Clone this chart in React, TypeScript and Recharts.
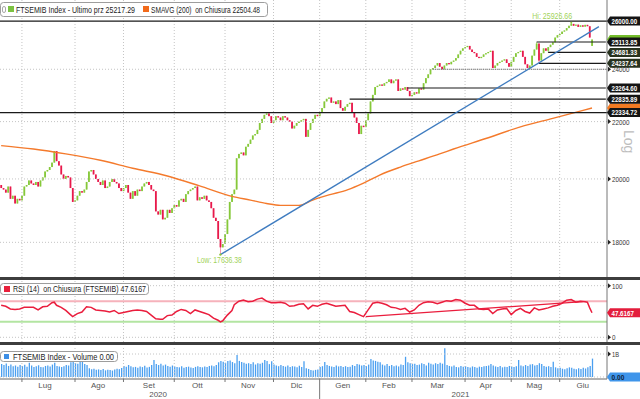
import React from "react";
import { ComposedChart, Bar, Line, XAxis, YAxis, ReferenceLine, ReferenceDot } from "recharts";

const FONT = "'Liberation Sans', Arial, sans-serif";
const SLOTS = 263; // giorni di borsa dal 18/06/2020 + spazio vuoto a destra

// chiusure giornaliere FTSEMIB
const closes = [
  19700, 19650, 19550, 19750, 19350, 19450, 19200, 19350, 19300,
  19450, 19750, 19800, 19950, 19850, 19800, 19900, 19750, 19950, 20050, 20250, 20300, 20400, 20550, 20950, 20600, 20450, 20150, 20000, 20100, 20050, 19700, 19250,
  19300, 19450, 19600, 19550, 19650, 19900, 20250, 20300, 20150, 20000, 19900, 19800, 19950, 19700, 19750, 19900, 20000, 19900, 19850, 19700, 19600,
  19700, 19800, 19550, 19350, 19600, 19450, 19650, 19600, 19750, 19850, 19900, 19800, 19650, 19600, 18950, 18850, 19000, 18700, 18750, 19000, 18900, 19050,
  19150, 19100, 19300, 19350, 19250, 19500, 19600, 19650, 19700, 19750, 19300, 19400, 19350, 19450, 19300, 19250, 19050, 18750, 18650, 18100, 17850, 17950,
  18250, 18700, 19250, 19500, 19650, 20700, 20850, 20900, 20800, 21100, 21200, 21350, 21500, 21550, 21700, 21950, 22100, 22250, 22300, 22200, 21950,
  22050, 22200, 22150, 22050, 22200, 22150, 22050, 22000, 21750, 21850, 21950, 22000, 22050, 22100, 21450, 21700, 21950, 22100, 22250, 22200,
  22350, 22500, 22750, 22850, 22900, 22700, 22750, 22650, 22800, 22500, 22400, 22550, 22650, 22700, 22350, 22150, 21950, 21550, 21850, 21800,
  22050, 22300, 22750, 23000, 23300, 23350, 23400, 23350, 23450, 23500, 23600, 23450, 23550, 23600, 23150, 23250, 23200, 23300, 23150, 22950,
  23000, 23100, 23050, 23250, 23200, 23450, 23650, 23800, 24000, 24050, 24150, 24250, 24100, 24000, 24150, 24250, 24200, 24300, 24350, 24450, 24600, 24750, 24850,
  24900, 24950, 24800, 24700, 24650, 24500, 24450, 24500, 24600, 24650, 24700, 24750, 24050, 24150, 24250, 24300, 24350, 24400, 24250, 24100,
  24300, 24500, 24650, 24700, 24750, 24500, 24200, 24050, 24150, 24550, 24800, 25050, 24350, 24650, 24850, 24750, 24900, 25000, 25100, 25300, 25400,
  25450, 25550, 25600, 25700, 25800, 25880, 25800, 25850, 25750, 25820, 25760, 25840, 25780, 25300, 25217.29,
];
// aperture diverse dalla chiusura precedente
const openGaps = [[0, 19800], [256, 24950]];
const lowMarks = [[95, 17636.38], [233, 24237.64], [237, 24681.33]];
const highMarks = [[232, 25113.85], [247, 25926.66]];

// volume (milioni)
const volumes = [
  560, 520, 590, 480, 540, 470, 500, 450, 520,
  480, 530, 450, 620, 500, 430, 470, 510, 440, 420, 480, 500, 460, 540, 620, 480, 460, 430, 470, 520, 500,
  640, 700, 600, 580, 650, 770, 560, 520,
  380, 340, 360, 310, 330, 300, 350, 290, 320, 300, 280, 330, 360, 340, 390,
  480, 450, 520, 470, 420, 440, 400, 460, 430, 490, 410, 440, 520, 740,
  560, 520, 580, 500, 540, 480, 450, 500,
  460, 440, 420, 470, 400, 430, 450, 410, 390, 440, 470, 430, 420, 460, 440, 480, 500, 470, 520, 640, 700, 660,
  620, 700, 720, 650, 600, 960,
  700, 650, 620, 580, 600, 560, 640, 540, 600, 580, 620, 740, 700, 560,
  680, 540, 500, 470, 520, 480, 450, 500, 430, 470, 460, 420, 490, 440, 680,
  380, 350, 300, 280, 310, 330,
  430, 470, 650, 520, 480, 460, 440, 500, 460, 480, 440, 470, 430, 450, 520, 480, 560, 540, 500, 520, 480, 540,
  780, 720, 700, 660, 640,
  540, 500, 560, 480, 520, 470, 500, 460, 540, 520, 880,
  640, 600, 560, 580, 520, 540, 600, 560, 500, 620, 580, 540, 600, 560, 620, 580, 1250,
  520, 480, 460, 500, 440, 420, 480, 450, 470, 430, 410, 460, 440, 400, 450, 430, 470, 480, 500,
  560, 500, 460, 440, 480, 420, 450, 430, 480, 460, 440, 470, 740,
  500, 470, 520, 480, 540, 560, 500, 520, 600, 560, 480, 450, 470, 440, 660,
  420, 380, 400, 360, 340, 380, 420, 400, 360, 340, 380, 350, 400, 370, 420, 480, 800,
];

// SMAVG(200) letta a intervalli
const smaIdx = [0, 14, 28, 43, 57, 72, 86, 100, 108, 115, 121, 129, 135, 142, 150, 157, 164, 173, 181, 190, 196, 210, 225, 239, 256];
const smaVals = [21140, 21020, 20850, 20630, 20360, 20100, 19770, 19430, 19310, 19200, 19140, 19140, 19310, 19475, 19640, 19860, 20130, 20400, 20610, 20850, 21020, 21390, 21810, 22120, 22504.48];

// RSI(14)
const rsiIdx = [0, 2, 4, 6, 8, 10, 12, 14, 16, 18, 20, 22, 23, 24, 26, 28, 30, 31, 33, 35, 37, 39, 41, 43, 45, 47, 49, 51, 53, 55, 57, 59, 61, 63, 65, 67, 69, 70, 72, 74, 76, 78, 80, 82, 84, 86, 88, 90, 92, 94, 95, 96, 98, 100, 101, 103, 105, 107, 109, 111, 113, 115, 117, 119, 121, 123, 125, 127, 129, 131, 133, 135, 137, 139, 141, 143, 145, 147, 149, 151, 153, 155, 157, 159, 161, 163, 165, 167, 169, 171, 173, 175, 177, 179, 181, 183, 185, 187, 189, 191, 193, 195, 197, 199, 201, 203, 205, 207, 209, 211, 213, 215, 217, 219, 221, 223, 225, 227, 229, 231, 233, 235, 237, 239, 241, 243, 245, 247, 249, 251, 253, 254, 255, 256];
const rsiVals = [62, 60, 55, 54, 55, 58, 58, 58, 53, 59, 60, 67, 68, 62, 58, 52, 44, 40, 46, 49, 59, 58, 53, 52, 51, 49, 52, 46, 48, 50, 52, 53, 52, 50, 43, 36, 35, 35, 42, 43, 50, 54, 52, 46, 53, 50, 47, 44, 37, 33, 30, 32, 43, 52, 63, 70, 72, 69, 70, 74, 76, 70, 67, 67, 68, 66, 60, 61, 64, 65, 55, 62, 60, 64, 66, 63, 60, 61, 62, 50, 48, 44, 40, 53, 66, 68, 66, 63, 58, 57, 54, 56, 49, 53, 62, 67, 69, 68, 65, 68, 71, 70, 73, 72, 66, 62, 62, 55, 54, 55, 46, 53, 55, 56, 44, 52, 56, 50, 47, 57, 53, 55, 57, 60, 62, 66, 72, 73, 68, 70, 69, 68, 57, 47.6167];

// livelli orizzontali (valore, indice di partenza)
const levelValues = [26000, 25113.85, 24681.33, 24237.64, 23264.6, 22835.89, 22334.72];
const levelStarts = [0, 232, 237, 233, 176, 151, 0];
const levelFills = ["#141414", "#141414", "#28321f", "#28321f", "#141414", "#141414", "#141414"];
const supportDotted = [187, 24000];
const trendFrom = [95, 17636.38];
const trendTo = [259, 25762];
const rsiTrendFrom = [158, 40];
const rsiTrendTo = [252, 69];
const lastPrice = 25217.29;
const smaLast = 22504.48;
const rsiLast = 47.6167;
const priceGrid = [18000, 20000, 22000, 24000];

const monthStarts = [9, 32, 53, 75, 97, 118, 138, 158, 178, 201, 221, 242];
const monthMids = [19, 42, 64, 85, 107, 128, 148, 168, 189, 210, 231, 252];
const monthLabels = ["Lug", "Ago", "Set", "Ott", "Nov", "Dic", "Gen", "Feb", "Mar", "Apr", "Mag", "Giu"];
const yearMids = [68, 199];
const yearLabels = ["2020", "2021"];

const UP = "#86c83a";
const DOWN = "#e8194b";
const GRID = "#c4c4c4";

const smaAt = new Map(smaIdx.map((k, n) => [k, smaVals[n]]));
const rsiAt = new Map(rsiIdx.map((k, n) => [k, rsiVals[n]]));
const gapAt = new Map(openGaps.map(([k, v]) => [k, v]));
const lowAt = new Map(lowMarks.map(([k, v]) => [k, v]));
const highAt = new Map(highMarks.map(([k, v]) => [k, v]));

const rows = Array.from({ length: SLOTS }, (_, i) => {
  const c = closes[i];
  if (c === undefined) return { i, candle: null, vol: null, sma: null, rsi: null };
  const o = gapAt.get(i) ?? closes[i - 1];
  const lo = Math.min(o, c, lowAt.get(i) ?? Infinity);
  const hi = Math.max(o, c, highAt.get(i) ?? -Infinity);
  return { i, o, c, candle: [lo, hi], vol: volumes[i], sma: smaAt.get(i) ?? null, rsi: rsiAt.get(i) ?? null };
});

function Candle(props: any) {
  const { x, y, width, height, payload } = props;
  if (!payload || !payload.candle) return null;
  const [lo, hi] = payload.candle;
  const span = Math.log(hi) - Math.log(lo);
  const toY = (v: number) => (span > 0 ? y + (height * (Math.log(hi) - Math.log(v))) / span : y);
  const up = payload.c >= payload.o;
  const top = toY(Math.max(payload.o, payload.c));
  const bot = toY(Math.min(payload.o, payload.c));
  const cx = x + width / 2;
  return (
    <g>
      {span > 0 && <line x1={cx} x2={cx} y1={y} y2={y + height} stroke={up ? "#b9e08a" : "#f49ab0"} strokeWidth={1} />}
      <rect x={cx - 0.9} y={top} width={1.8} height={Math.max(1, bot - top)} fill={up ? UP : DOWN} />
    </g>
  );
}

// testo compresso (il font Bloomberg è stretto)
function T(props: any) {
  const { w, children, ...rest } = props;
  return (
    <text fontFamily={FONT} textLength={w} lengthAdjust="spacingAndGlyphs" xmlSpace="preserve" {...rest}>
      {children}
    </text>
  );
}

function AxisTick(props: any) {
  const { x, y, payload, boxes, fmt } = props;
  const v = payload.value;
  const box = boxes.find((b: any) => b.v === v);
  if (box) {
    return (
      <g>
        <polygon points={`${x},${y} ${x + 3},${y - 4.5} ${x + 33},${y - 4.5} ${x + 33},${y + 4.5} ${x + 3},${y + 4.5}`} fill={box.fill} />
        {box.text && (
          <T x={x + 4.5} y={y + 2.8} w={box.text.length * 3.2} fontSize={7.5} fontWeight="bold" fill={box.color}>{box.text}</T>
        )}
      </g>
    );
  }
  const s = fmt(v);
  return (
    <g>
      <polygon points={`${x + 1},${y - 2.5} ${x + 4},${y} ${x + 1},${y + 2.5}`} fill="#222" />
      <T x={x + 5} y={y + 3} w={s.length * 3.5} fontSize={7.5} fill="#333">{s}</T>
    </g>
  );
}

const mainBoxes = [
  { v: lastPrice, text: "", fill: "#74bd2b", color: "#fff" },
  { v: smaLast, text: "", fill: "#f27a22", color: "#fff" },
  ...levelValues.map((v, n) => ({ v, text: v.toFixed(2), fill: levelFills[n], color: "#fff" })),
];
const rsiBoxes = [{ v: rsiLast, text: String(rsiLast), fill: "#e31d3c", color: "#fff" }];
const volBoxes = [{ v: 0, text: "0.00", fill: "#3f95ea", color: "#10243a" }];

const monthGrid = (k: string) =>
  monthStarts.map((m) => <ReferenceLine key={k + m} x={m} stroke={GRID} strokeDasharray="1 2" />);

export default function App() {
  return (
    <div style={{ position: "absolute", left: 0, top: 0, width: 640, height: 399, background: "#fff", overflow: "hidden" }}>
      <div style={{ position: "absolute", left: 0, top: 0 }}>
        <ComposedChart width={640} height={277} data={rows} margin={{ top: 0, right: 0, bottom: 0, left: 0 }}>
          <XAxis dataKey="i" scale="band" hide />
          <YAxis orientation="right" width={33} type="number" scale="log" domain={[16992, 26929]} allowDataOverflow
            ticks={[lastPrice, smaLast, ...priceGrid, ...levelValues]} interval={0} tickLine={false} tickSize={0} tickMargin={0}
            axisLine={{ stroke: "#777" }} tick={(p: any) => <AxisTick {...p} boxes={mainBoxes} fmt={(v: number) => String(v)} />} />
          {monthGrid("m")}
          {priceGrid.map((v) => <ReferenceLine key={"g" + v} y={v} stroke={GRID} strokeDasharray="1 2" />)}
          <ReferenceLine segment={[{ x: supportDotted[0], y: supportDotted[1] }, { x: SLOTS - 1, y: supportDotted[1] }]} stroke="#555" strokeDasharray="1 1" />
          <Bar dataKey="candle" shape={(p: any) => <Candle {...p} />} isAnimationActive={false} />
          <Line dataKey="sma" type="monotone" stroke="#f47a2c" strokeWidth={1.4} dot={false} activeDot={false} connectNulls isAnimationActive={false} />
          {levelValues.map((v, n) =>
            levelStarts[n] === 0 ? (
              <ReferenceLine key={"l" + v} y={v} stroke="#1a1a1a" strokeWidth={1.2} />
            ) : (
              <ReferenceLine key={"l" + v} segment={[{ x: levelStarts[n], y: v }, { x: SLOTS - 1, y: v }]} stroke="#1a1a1a" strokeWidth={1.2} />
            )
          )}
          <ReferenceLine segment={[{ x: trendFrom[0], y: trendFrom[1] }, { x: trendTo[0], y: trendTo[1] }]} stroke="#3f7cc0" strokeWidth={1.3} />
          <ReferenceDot x={highMarks[1][0]} y={highMarks[1][1]} r={1} fill="#8dc63f" stroke="none"
            label={(p: any) => (
              <T x={p.viewBox.x + p.viewBox.width / 2 + 1} y={p.viewBox.y - 2.5} w={40} textAnchor="end" fontSize={8.5} fill="#9fd35a">
                {"Hi: " + highMarks[1][1].toFixed(2)}
              </T>
            )} />
          <ReferenceDot x={lowMarks[0][0]} y={lowMarks[0][1]} r={1.2} fill="#8dc63f" stroke="none"
            label={(p: any) => (
              <T x={p.viewBox.x + p.viewBox.width / 2 - 1} y={p.viewBox.y + 10} w={45} textAnchor="middle" fontSize={8.5} fill="#9fd35a">
                {"Low: " + lowMarks[0][1].toFixed(2)}
              </T>
            )} />
        </ComposedChart>
      </div>

      <div style={{ position: "absolute", left: 0, top: 277, width: 640, height: 3, background: "#3d3d3d" }} />

      <div style={{ position: "absolute", left: 0, top: 280 }}>
        <ComposedChart width={640} height={62} data={rows} margin={{ top: 0, right: 0, bottom: 0, left: 0 }}>
          <XAxis dataKey="i" scale="band" hide />
          <YAxis orientation="right" width={33} type="number" domain={[-9.1, 111]} allowDataOverflow ticks={[100, 0, rsiLast]} interval={0}
            tickLine={false} tickSize={0} tickMargin={0} axisLine={{ stroke: "#777" }}
            tick={(p: any) => <AxisTick {...p} boxes={rsiBoxes} fmt={(v: number) => String(v)} />} />
          {monthGrid("r")}
          <ReferenceLine y={100} stroke={GRID} strokeDasharray="1 2" />
          <ReferenceLine y={0} stroke={GRID} strokeDasharray="1 2" />
          <ReferenceLine y={70} stroke="#f6b2bb" strokeWidth={2} />
          <ReferenceLine y={30} stroke="#b3e5a2" strokeWidth={2} />
          <Line dataKey="rsi" stroke="#ea1d3d" strokeWidth={1.5} dot={false} activeDot={false} connectNulls isAnimationActive={false} />
          <ReferenceLine segment={[{ x: rsiTrendFrom[0], y: rsiTrendFrom[1] }, { x: rsiTrendTo[0], y: rsiTrendTo[1] }]} stroke="#ea1d3d" strokeWidth={1.2} />
        </ComposedChart>
      </div>

      <div style={{ position: "absolute", left: 0, top: 342, width: 640, height: 3, background: "#3d3d3d" }} />

      <div style={{ position: "absolute", left: 0, top: 345 }}>
        <ComposedChart width={640} height={54} data={rows} margin={{ top: 1, right: 0, bottom: 0, left: 0 }}>
          <XAxis dataKey="i" scale="band" height={2} ticks={monthStarts} interval={0} tickLine={false} tickSize={0} tickMargin={0}
            axisLine={{ stroke: "#666" }}
            tick={(p: any) => (
              <line x1={p.x} x2={p.x} y1={p.y} y2={p.y + (p.payload.value === 138 ? 22 : 3)} stroke="#777" strokeWidth={1} />
            )} />
          <XAxis xAxisId="m" dataKey="i" scale="band" height={9} ticks={monthMids} interval={0} axisLine={false} tickLine={false} tickSize={0} tickMargin={0}
            tick={(p: any) => (
              <text x={p.x} y={p.y + 7} textAnchor="middle" fontSize={8} fill="#555" fontFamily={FONT}>
                {monthLabels[monthMids.indexOf(p.payload.value)]}
              </text>
            )} />
          <XAxis xAxisId="y" dataKey="i" scale="band" height={9} ticks={yearMids} interval={0} axisLine={false} tickLine={false} tickSize={0} tickMargin={0}
            tick={(p: any) => (
              <text x={p.x} y={p.y + 7} textAnchor="middle" fontSize={8} fill="#555" fontFamily={FONT}>
                {yearLabels[yearMids.indexOf(p.payload.value)]}
              </text>
            )} />
          <YAxis orientation="right" width={33} type="number" domain={[-87, 1348]} allowDataOverflow ticks={[1000, 0]} interval={0}
            tickLine={false} tickSize={0} tickMargin={0} axisLine={{ stroke: "#777" }}
            tick={(p: any) => <AxisTick {...p} boxes={volBoxes} fmt={() => "1B"} />} />
          {monthGrid("v")}
          <ReferenceLine y={1000} stroke={GRID} strokeDasharray="1 2" />
          <ReferenceLine y={0} stroke={GRID} strokeDasharray="1 2" />
          <Bar dataKey="vol" fill="#4a9ff0" barSize={1.3} isAnimationActive={false} />
        </ComposedChart>
      </div>

      <svg width={640} height={399} style={{ position: "absolute", left: 0, top: 0, pointerEvents: "none" }}>
        <rect x={0.5} y={2.5} width={267} height={14} rx={3} fill="#fff" stroke="#9d9d9d" />
        <rect x={2.5} y={6.5} width={3} height={6} rx={1.5} fill="none" stroke="#aaa" />
        <rect x={8} y={6} width={6} height={6} fill="#7cc242" />
        <T x={16} y={12.5} w={119} fontSize={8.5} fill="#222">FTSEMIB Index - Ultimo prz 25217.29</T>
        <rect x={143} y={6} width={6} height={6} fill="#f26a1b" />
        <T x={151} y={12.5} w={109} fontSize={8.5} fill="#222">SMAVG (200)  on Chiusura 22504.48</T>

        <rect x={0.5} y={283.5} width={148} height={11} rx={3} fill="#fff" stroke="#9d9d9d" />
        <rect x={4} y={286} width={6} height={6} fill="#e8203c" />
        <T x={13} y={292} w={133} fontSize={8.5} fill="#222">RSI (14)  on Chiusura (FTSEMIB) 47.6167</T>

        <rect x={0.5} y={351.5} width={117} height={10} rx={3} fill="#fff" stroke="#9d9d9d" />
        <rect x={4} y={354} width={5} height={5} fill="#3d8fe6" />
        <T x={13} y={359.5} w={101} fontSize={8.5} fill="#222">FTSEMIB Index - Volume 0.00</T>

        <text x={624} y={130} transform="rotate(90 624 130)" fontSize={14} fill="#bdbdbd" fontFamily={FONT}>Log</text>
      </svg>
    </div>
  );
}
